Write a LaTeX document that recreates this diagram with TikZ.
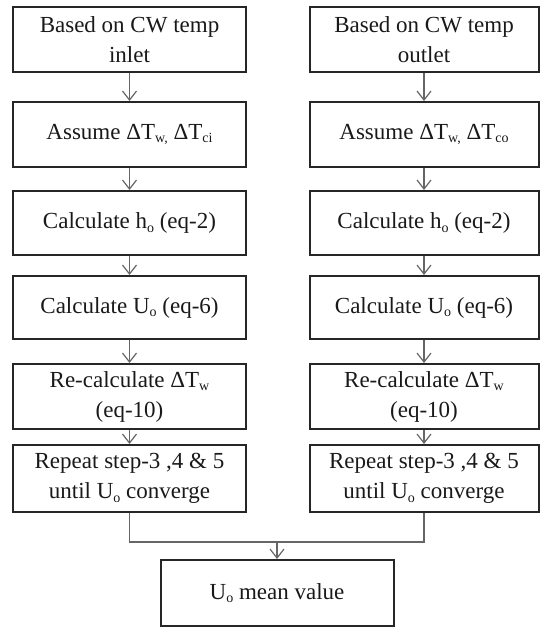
\documentclass[tikz,border=0pt]{standalone}
\usepackage{fontspec}
\setmainfont{Liberation Serif}
\usetikzlibrary{arrows.meta}
\newcommand{\mysub}[1]{\raisebox{-0.35ex}{\fontsize{14}{14}\selectfont #1}}
\tikzset{
  stepbox/.style={draw=black!85, line width=2pt, rectangle, align=center, inner sep=0pt,
    font=\fontsize{23}{30}\selectfont, text=black!90},
  flow/.style={draw=black!60, line width=1.4pt},
  flowarrow/.style={flow, -{Straight Barb[length=9pt,width=14pt,line width=1.2pt]}}
}
\begin{document}
\begin{tikzpicture}[x=1pt,y=-1pt]
\useasboundingbox (0,0) rectangle (540,628);
% left column
\node[stepbox, minimum width=233pt, minimum height=65pt] (l1) at (129.5,39.5) {Based on CW temp\\inlet};
\node[stepbox, minimum width=233pt, minimum height=65pt] (l2) at (129.5,134.5) {Assume ΔT\mysub{w,} ΔT\mysub{ci}};
\node[stepbox, minimum width=233pt, minimum height=64pt] (l3) at (129.5,223) {Calculate h\mysub{o} (eq-2)};
\node[stepbox, minimum width=233pt, minimum height=63pt] (l4) at (129.5,307.5) {Calculate U\mysub{o} (eq-6)};
\node[stepbox, minimum width=233pt, minimum height=65pt] (l5) at (129.5,396.5) {Re-calculate ΔT\mysub{w}\\(eq-10)};
\node[stepbox, minimum width=233pt, minimum height=67pt] (l6) at (129.5,478.5) {Repeat step-3 ,4 \& 5\\until U\mysub{o} converge};
% right column
\node[stepbox, minimum width=229pt, minimum height=65pt] (r1) at (424,39.5) {Based on CW temp\\outlet};
\node[stepbox, minimum width=229pt, minimum height=65pt] (r2) at (424,134.5) {Assume ΔT\mysub{w,} ΔT\mysub{co}};
\node[stepbox, minimum width=229pt, minimum height=64pt] (r3) at (424,223) {Calculate h\mysub{o} (eq-2)};
\node[stepbox, minimum width=229pt, minimum height=63pt] (r4) at (424,307.5) {Calculate U\mysub{o} (eq-6)};
\node[stepbox, minimum width=229pt, minimum height=65pt] (r5) at (424,396.5) {Re-calculate ΔT\mysub{w}\\(eq-10)};
\node[stepbox, minimum width=229pt, minimum height=67pt] (r6) at (424,478.5) {Repeat step-3 ,4 \& 5\\until U\mysub{o} converge};
% final
\node[stepbox, minimum width=233pt, minimum height=66pt] (fin) at (277,593) {U\mysub{o} mean value};
% arrows
\foreach \a/\b in {l1/l2,l2/l3,l3/l4,l4/l5,l5/l6,r1/r2,r2/r3,r3/r4,r4/r5,r5/r6}{
  \draw[flowarrow] (\a.south) -- (\b.north);
}
\coordinate (j) at (277,542);
\draw[flow] (l6.south) |- (j);
\draw[flow] (r6.south) |- (j);
\draw[flowarrow] (j) -- (fin.north);
\end{tikzpicture}
\end{document}
